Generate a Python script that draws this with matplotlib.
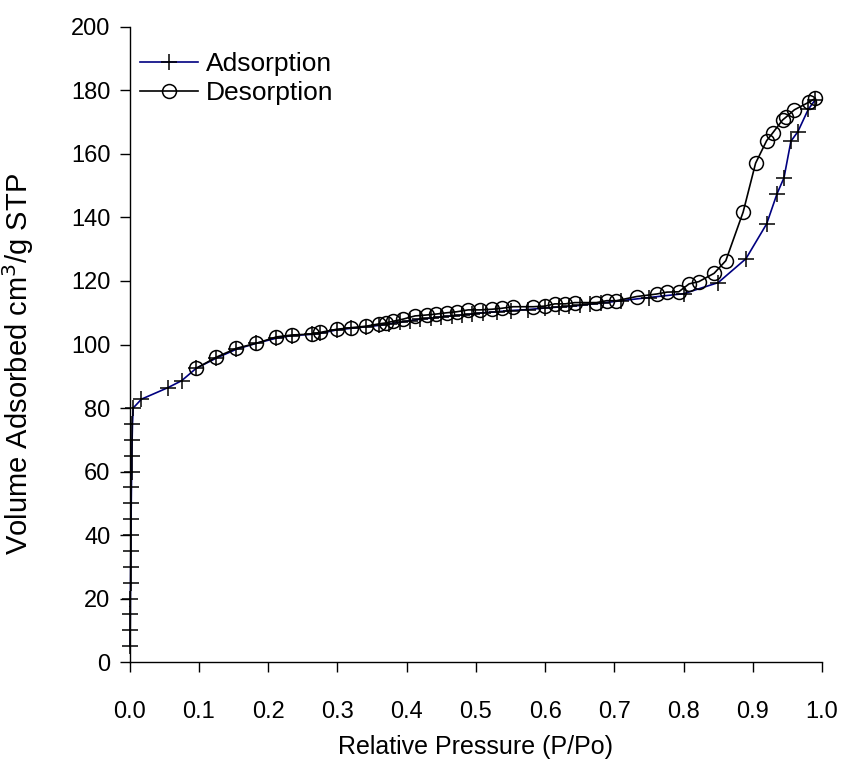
import matplotlib.pyplot as plt

# Nitrogen isotherm data
ads_p = [0.0005, 0.0007, 0.0009, 0.001, 0.0012, 0.0014, 0.0016, 0.0018, 0.002,
         0.0022, 0.0025, 0.0028, 0.003, 0.0035, 0.004, 0.005, 0.017, 0.055,
         0.075, 0.096, 0.125, 0.154, 0.183, 0.212, 0.234, 0.263, 0.275, 0.299,
         0.320, 0.342, 0.36, 0.375, 0.39, 0.405, 0.42, 0.435, 0.45, 0.465,
         0.48, 0.495, 0.51, 0.53, 0.55, 0.575, 0.60, 0.62, 0.635, 0.65, 0.665,
         0.68, 0.71, 0.75, 0.80, 0.85, 0.89, 0.92, 0.935, 0.945, 0.955,
         0.965, 0.98, 0.99]
ads_v = [5, 10, 15, 20, 25, 30, 35, 40, 45, 50, 55, 60, 65, 70, 75, 80, 82.8,
         86.4, 88.6, 92.5, 95.7, 98.5, 100.4, 102.0, 102.8, 103.2, 103.5, 104.6,
         105.1, 105.6, 106.0, 106.5, 107.0, 107.5, 108.0, 108.3, 108.7, 109.0,
         109.3, 109.6, 110.0, 110.3, 110.7, 111.0, 111.5, 111.8, 112.0, 112.3,
         112.7, 113.0, 113.8, 114.8, 116.0, 119.5, 127.0, 138.0, 147.5, 152.5,
         164.0, 167.0, 174.0, 177.0]

des_p = [0.99, 0.981, 0.960, 0.948, 0.943, 0.929, 0.920, 0.904, 0.886, 0.861,
         0.844, 0.822, 0.808, 0.793, 0.776, 0.761, 0.732, 0.703, 0.689, 0.674,
         0.643, 0.629, 0.614, 0.600, 0.583, 0.554, 0.537, 0.523, 0.506, 0.489,
         0.472, 0.458, 0.443, 0.429, 0.412, 0.395, 0.38, 0.37, 0.36, 0.342,
         0.320, 0.299, 0.275, 0.263, 0.234, 0.212, 0.183, 0.154, 0.125, 0.096]
des_v = [177.5, 176.3, 173.9, 171.6, 170.7, 166.7, 164.2, 157.1, 141.7, 126.4,
         122.4, 119.8, 119.1, 116.6, 116.5, 115.9, 115.1, 113.8, 113.8, 113.2,
         113.2, 112.8, 112.8, 112.1, 111.9, 111.9, 111.4, 111.1, 110.9, 110.9,
         110.3, 110.0, 109.6, 109.3, 109.0, 108.0, 107.3, 106.8, 106.5, 105.8,
         105.3, 104.8, 103.8, 103.3, 103.0, 102.4, 100.4, 98.8, 96.0, 92.5]

x_ticks = [0.0, 0.1, 0.2, 0.3, 0.4, 0.5, 0.6, 0.7, 0.8, 0.9, 1.0]
y_ticks = [0, 20, 40, 60, 80, 100, 120, 140, 160, 180, 200]

plt.rcParams['font.family'] = ['Liberation Sans', 'DejaVu Sans']

fig = plt.figure(figsize=(8.59, 7.69), dpi=100)
ax = fig.add_axes([0.151, 0.139, 0.806, 0.826])

ax.plot(ads_p, ads_v, color='#000080', linewidth=1.2, marker='+',
        markersize=12, markeredgecolor='black', markeredgewidth=1.1,
        label='Adsorption', clip_on=False)
ax.plot(des_p, des_v, color='black', linewidth=1.2, marker='o',
        markersize=10, markerfacecolor='none', markeredgecolor='black',
        markeredgewidth=1.1, label='Desorption', clip_on=False)

ax.set_xlim(0, 1.0)
ax.set_ylim(0, 200)
ax.set_xticks(x_ticks)
ax.set_xticklabels([f'{t:.1f}' for t in x_ticks])
ax.set_yticks(y_ticks)

for side in ['top', 'right']:
    ax.spines[side].set_visible(False)
for side in ['left', 'bottom']:
    ax.spines[side].set_linewidth(1.0)

ax.tick_params(axis='both', direction='out', length=7, width=1.0,
               labelsize=17)
ax.tick_params(axis='x', pad=21)
ax.tick_params(axis='y', pad=7)

ax.set_xlabel('Relative Pressure (P/Po)', fontsize=18)
ax.set_ylabel('Volume Adsorbed cm$^3$/g STP', fontsize=21)
ax.xaxis.set_label_coords(0.5, -0.115)
ax.yaxis.set_label_coords(-0.135, 0.47)

ax.legend(loc='upper left', bbox_to_anchor=(0.0, 0.977), frameon=False,
          fontsize=19, handlelength=2.2, handletextpad=0.3,
          borderaxespad=0.0, labelspacing=0.2)

fig.savefig('out.png', dpi=100)
